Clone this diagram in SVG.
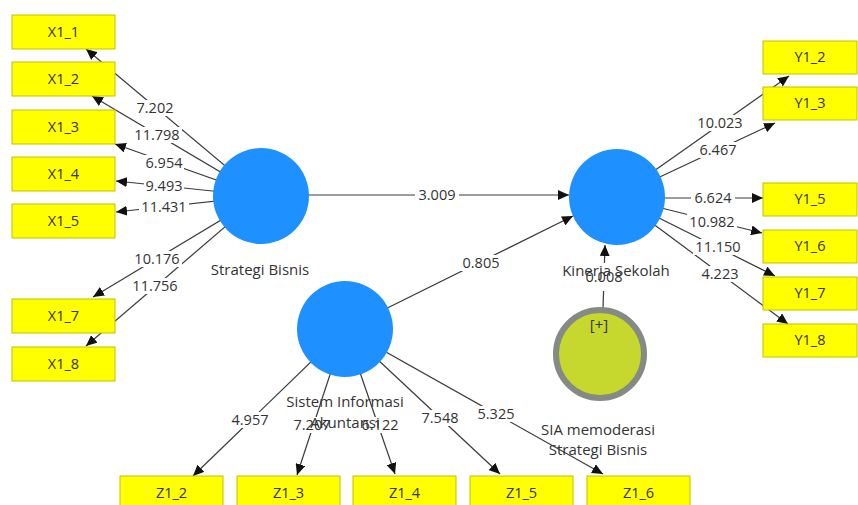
<svg xmlns="http://www.w3.org/2000/svg" width="858" height="505" viewBox="0 0 858 505">
<style>
.box{fill:#ffff00;stroke:#c2c200;stroke-width:1}
.bt{font-family:"Open Sans","Noto Sans",sans-serif;font-size:14.5px;fill:#333;text-anchor:middle}
.nt{font-family:"Open Sans","Noto Sans",sans-serif;font-size:15px;fill:#333;text-anchor:middle}
.lat{fill:#1e90ff}
.mod{fill:#c6d82e;stroke:#848a84;stroke-width:6}
.ln{stroke:#3a3a3a;stroke-width:1.2;fill:none;marker-end:url(#ah)}
.lb{fill:#fff}
.lt{font-family:"Open Sans","Noto Sans",sans-serif;font-size:14.5px;fill:#333;text-anchor:middle}
</style>
<defs>
<marker id="ah" markerUnits="userSpaceOnUse" markerWidth="12" markerHeight="10" refX="11" refY="5" orient="auto">
<path d="M0,0 L11,5 L0,10 z" fill="#111"/>
</marker>
</defs>
<rect width="858" height="505" fill="#fff"/>
<g id="connectors">
<line class="ln" x1="261" y1="196" x2="86" y2="49"/>
<line class="ln" x1="261" y1="196" x2="92" y2="96"/>
<line class="ln" x1="261" y1="196" x2="115" y2="144"/>
<line class="ln" x1="261" y1="196" x2="116" y2="181"/>
<line class="ln" x1="261" y1="196" x2="116" y2="212"/>
<line class="ln" x1="261" y1="196" x2="93" y2="297"/>
<line class="ln" x1="261" y1="196" x2="86" y2="346"/>
<line class="ln" x1="261" y1="195" x2="569" y2="195"/>
<line class="ln" x1="345" y1="329" x2="573" y2="216"/>
<line class="ln" x1="603" y1="309" x2="605" y2="245"/>
<line class="ln" x1="617" y1="197" x2="789" y2="76"/>
<line class="ln" x1="617" y1="197" x2="775" y2="123"/>
<line class="ln" x1="617" y1="198" x2="763" y2="198"/>
<line class="ln" x1="617" y1="197" x2="762" y2="233"/>
<line class="ln" x1="617" y1="197" x2="775" y2="276"/>
<line class="ln" x1="617" y1="197" x2="788" y2="324"/>
<line class="ln" x1="345" y1="329" x2="193" y2="476"/>
<line class="ln" x1="345" y1="329" x2="297" y2="475"/>
<line class="ln" x1="345" y1="329" x2="395" y2="474"/>
<line class="ln" x1="345" y1="329" x2="500" y2="474"/>
<line class="ln" x1="345" y1="329" x2="603" y2="474"/>
<g id="labels">
<rect class="lb" x="135" y="100" width="40" height="16"/><text class="lt" x="155" y="113">7.202</text>
<rect class="lb" x="132" y="127" width="50" height="16"/><text class="lt" x="157" y="140">11.798</text>
<rect class="lb" x="144" y="155" width="40" height="16"/><text class="lt" x="164" y="168">6.954</text>
<rect class="lb" x="144" y="178" width="40" height="16"/><text class="lt" x="164" y="191">9.493</text>
<rect class="lb" x="139" y="199" width="50" height="16"/><text class="lt" x="164" y="212">11.431</text>
<rect class="lb" x="132" y="251" width="50" height="16"/><text class="lt" x="157" y="264">10.176</text>
<rect class="lb" x="130" y="278" width="50" height="16"/><text class="lt" x="155" y="291">11.756</text>
<rect class="lb" x="415" y="187" width="44" height="16"/><text class="lt" x="437" y="200">3.009</text>
<rect class="lb" x="459" y="255" width="44" height="16"/><text class="lt" x="481" y="268">0.805</text>
<rect class="lb" x="584" y="263" width="42" height="28"/><text class="lt" x="604" y="282">0.008</text>
<rect class="lb" x="695" y="115" width="50" height="16"/><text class="lt" x="720" y="128">10.023</text>
<rect class="lb" x="697" y="142" width="42" height="16"/><text class="lt" x="718" y="155">6.467</text>
<rect class="lb" x="691" y="190" width="44" height="16"/><text class="lt" x="713" y="203">6.624</text>
<rect class="lb" x="687" y="214" width="50" height="16"/><text class="lt" x="712" y="227">10.982</text>
<rect class="lb" x="693" y="239" width="50" height="16"/><text class="lt" x="718" y="252">11.150</text>
<rect class="lb" x="699" y="266" width="42" height="16"/><text class="lt" x="720" y="279">4.223</text>
<rect class="lb" x="229" y="412" width="42" height="16"/><text class="lt" x="250" y="425">4.957</text>
<rect class="lb" x="291" y="417" width="42" height="16"/><text class="lt" x="312" y="430">7.207</text>
<rect class="lb" x="359" y="417" width="42" height="16"/><text class="lt" x="380" y="430">6.122</text>
<rect class="lb" x="419" y="410" width="42" height="16"/><text class="lt" x="440" y="423">7.548</text>
<rect class="lb" x="475" y="406" width="42" height="16"/><text class="lt" x="496" y="419">5.325</text>
</g>
</g>
<g id="X1_1"><rect class="box" x="12" y="15" width="103" height="34"/><text class="bt" x="63.5" y="37">X1_1</text></g>
<g id="X1_2"><rect class="box" x="12" y="62" width="103" height="34"/><text class="bt" x="63.5" y="84">X1_2</text></g>
<g id="X1_3"><rect class="box" x="12" y="110" width="103" height="34"/><text class="bt" x="63.5" y="132">X1_3</text></g>
<g id="X1_4"><rect class="box" x="12" y="157" width="103" height="34"/><text class="bt" x="63.5" y="179">X1_4</text></g>
<g id="X1_5"><rect class="box" x="12" y="204" width="103" height="34"/><text class="bt" x="63.5" y="226">X1_5</text></g>
<g id="X1_7"><rect class="box" x="12" y="299" width="103" height="34"/><text class="bt" x="63.5" y="321">X1_7</text></g>
<g id="X1_8"><rect class="box" x="12" y="347" width="103" height="34"/><text class="bt" x="63.5" y="369">X1_8</text></g>
<g id="Y1_2"><rect class="box" x="763" y="41" width="94" height="33"/><text class="bt" x="810" y="62">Y1_2</text></g>
<g id="Y1_3"><rect class="box" x="763" y="87" width="94" height="33"/><text class="bt" x="810" y="108">Y1_3</text></g>
<g id="Y1_5"><rect class="box" x="763" y="183" width="94" height="33"/><text class="bt" x="810" y="204">Y1_5</text></g>
<g id="Y1_6"><rect class="box" x="763" y="230" width="94" height="33"/><text class="bt" x="810" y="251">Y1_6</text></g>
<g id="Y1_7"><rect class="box" x="763" y="277" width="94" height="33"/><text class="bt" x="810" y="298">Y1_7</text></g>
<g id="Y1_8"><rect class="box" x="763" y="324" width="94" height="33"/><text class="bt" x="810" y="345">Y1_8</text></g>
<g id="Z1_2"><rect class="box" x="120" y="476" width="103" height="34"/><text class="bt" x="171.5" y="498">Z1_2</text></g>
<g id="Z1_3"><rect class="box" x="237" y="476" width="103" height="34"/><text class="bt" x="288.5" y="498">Z1_3</text></g>
<g id="Z1_4"><rect class="box" x="353" y="476" width="103" height="34"/><text class="bt" x="404.5" y="498">Z1_4</text></g>
<g id="Z1_5"><rect class="box" x="470" y="476" width="103" height="34"/><text class="bt" x="521.5" y="498">Z1_5</text></g>
<g id="Z1_6"><rect class="box" x="587" y="476" width="103" height="34"/><text class="bt" x="638.5" y="498">Z1_6</text></g>
<g id="StrategiBisnis"><circle class="lat" cx="261" cy="196" r="48"/><text class="nt" x="260" y="275">Strategi Bisnis</text></g>
<g id="KinerjaSekolah"><circle class="lat" cx="617" cy="197" r="48"/><text class="nt" x="616" y="276">Kinerja Sekolah</text></g>
<g id="SistemInformasiAkuntansi"><circle class="lat" cx="345" cy="329" r="48"/><text class="nt" x="345" y="407">Sistem Informasi</text><text class="nt" x="345" y="428">Akuntansi</text></g>
<g id="SIAmemoderasi"><circle class="mod" cx="600" cy="354" r="44"/><text class="nt" x="599" y="330">[+]</text><text class="nt" x="598" y="435">SIA memoderasi</text><text class="nt" x="598" y="455">Strategi Bisnis</text></g>
</svg>
